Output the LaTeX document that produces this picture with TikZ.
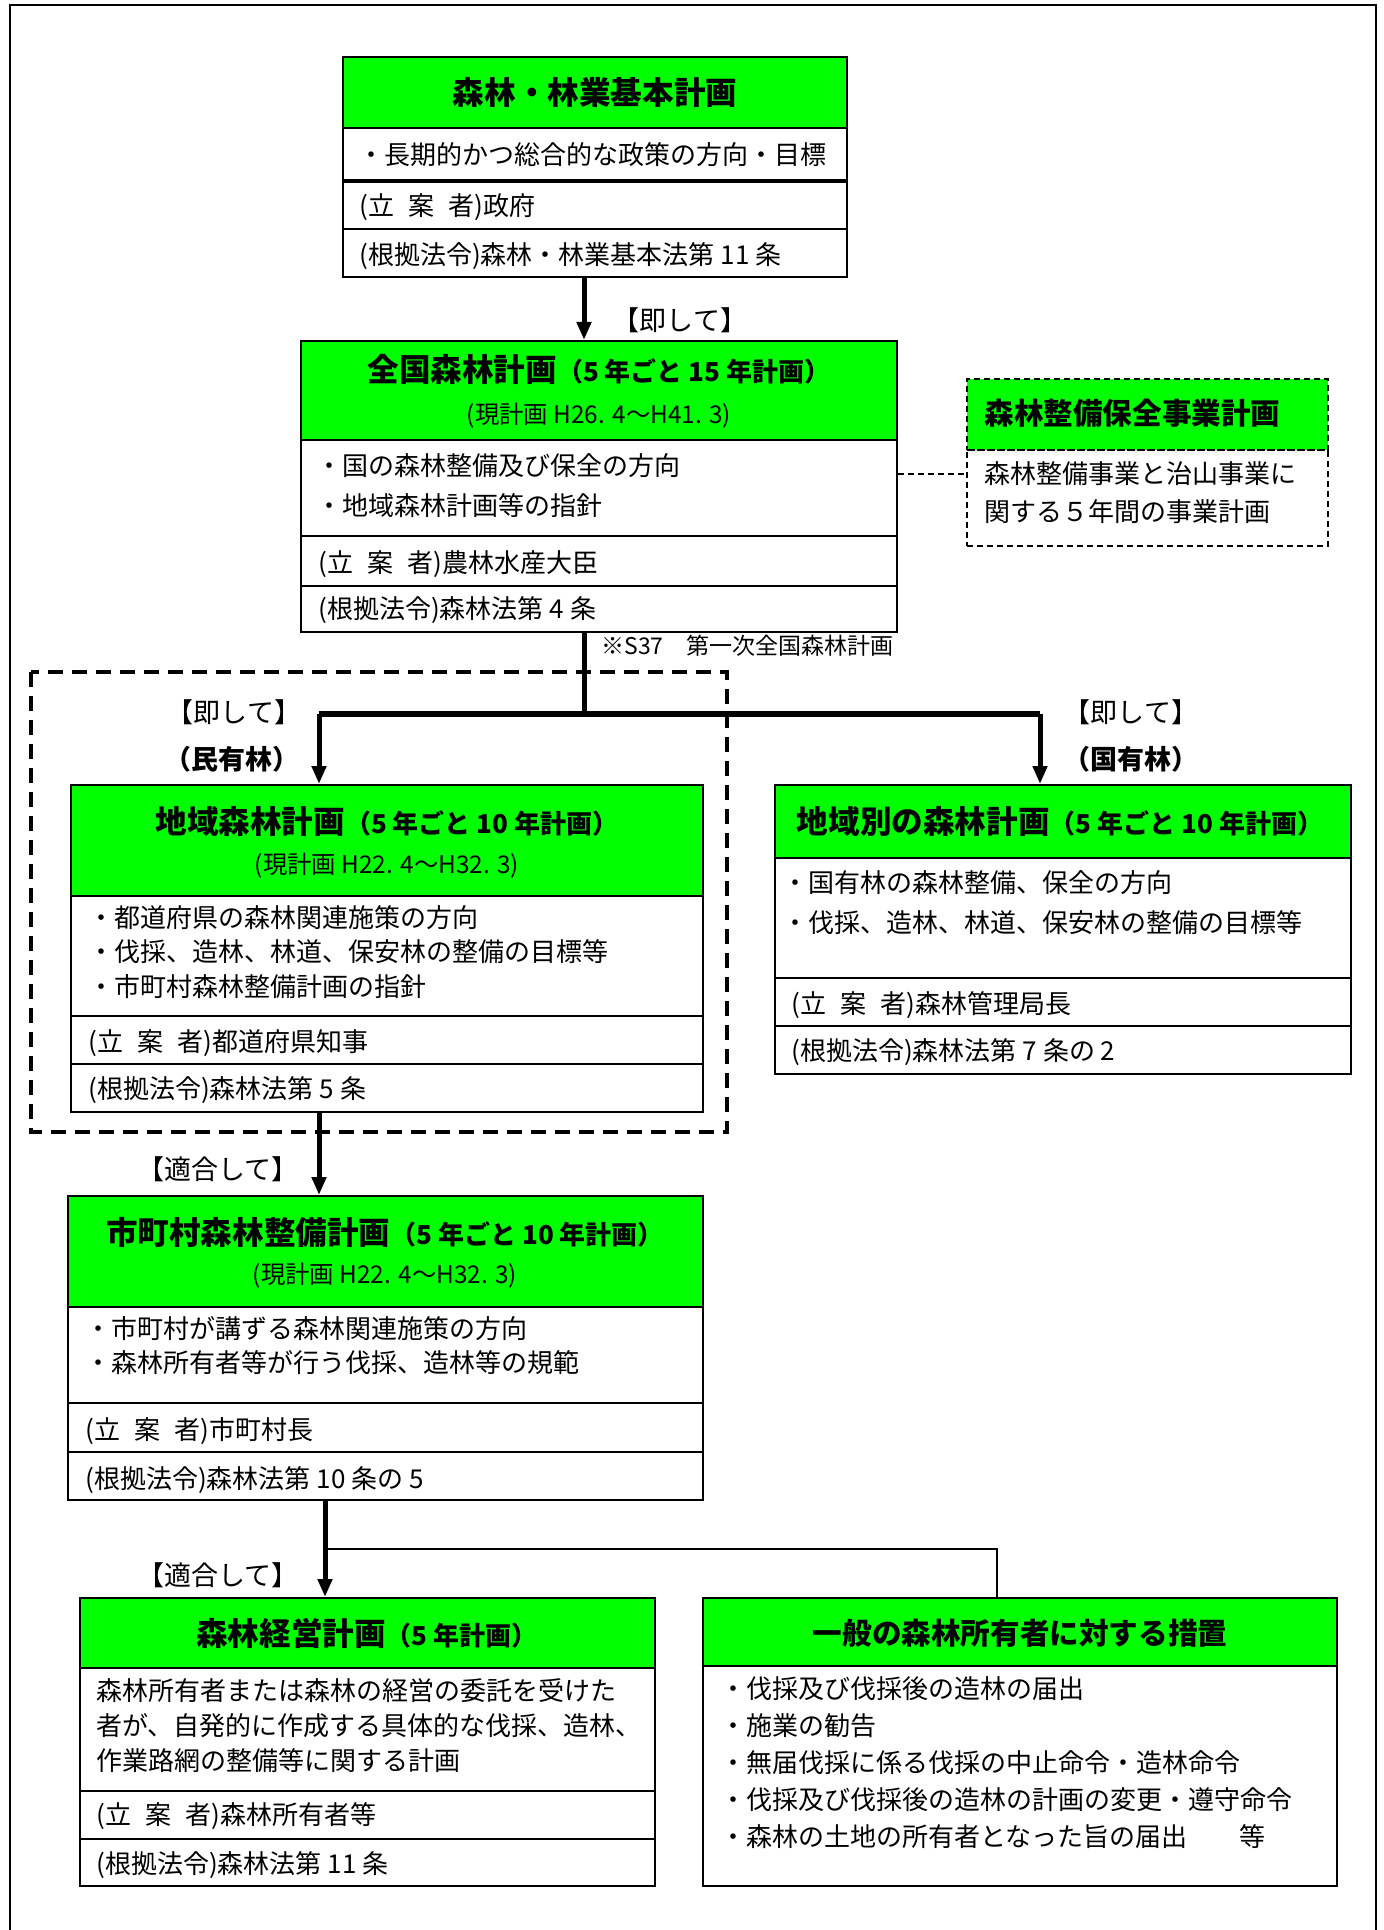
\documentclass[tikz,border=0pt]{standalone}
\usepackage{fontspec}
\setmainfont{Noto Sans CJK JP}
\usetikzlibrary{fit,arrows.meta}
\definecolor{hgreen}{RGB}{0,255,0}
\begin{document}
\begin{tikzpicture}[x=0.5pt,y=-0.5pt,
  cell/.style={draw=black,line width=1pt,inner sep=0pt},
  hdr/.style={cell,fill=hgreen},
  dcell/.style={draw=black,line width=1pt,dash pattern=on 3pt off 2pt,inner sep=0pt},
  body/.style={anchor=west,inner sep=0pt,font=\fontsize{13}{16}\selectfont},
  htxt/.style={inner sep=0pt,font=\bfseries\fontsize{15.8}{19}\selectfont},
  sub/.style={inner sep=0pt,font=\fontsize{12.2}{14}\selectfont},
  lbl/.style={inner sep=0pt,font=\fontsize{13.5}{16}\selectfont},
  blbl/.style={inner sep=0pt,font=\bfseries\fontsize{13.5}{16}\selectfont},
  thickarrow/.style={line width=2.5pt,-{Triangle[length=9pt,width=7pt]}},
  thickline/.style={line width=3pt},
  thinline/.style={line width=0.8pt},
]
\newcommand{\pp}[1]{{\fontsize{13}{15}\selectfont #1}}
\useasboundingbox (0,0) rectangle (1383,1930);
% outer frame
\draw[line width=0.8pt] (10,1935) -- (10,5) -- (1376,5) -- (1376,1935);

% ---------- box 1
\node[hdr, fit={(343,57)(847,128)}] (b1h) {};
\node[cell, fit={(343,128)(847,180)}] (b1r1) {};
\node[cell, fit={(343,180)(847,229)}] (b1r2) {};
\node[cell, fit={(343,229)(847,277)}] (b1r3) {};
\draw[line width=2pt] (b1r1.south west) -- (b1r1.south east);
\node[htxt] (t1h) at (b1h.center) {森林・林業基本計画};
\node[body] (t1a) at (358,155) {・長期的かつ総合的な政策の方向・目標};
\node[body] (t1b) at (359,207) {(立\hspace{.55em}案\hspace{.55em}者)政府};
\node[body] (t1c) at (359,256) {(根拠法令)森林・林業基本法第 11 条};

% ---------- box 2
\node[hdr, fit={(301,341)(897,440)}] (b2h) {};
\node[cell, fit={(301,440)(897,536)}] (b2r1) {};
\node[cell, fit={(301,536)(897,586)}] (b2r2) {};
\node[cell, fit={(301,586)(897,632)}] (b2r3) {};
\node[htxt] (t2h) at (599,369) {全国森林計画\pp{（5 年ごと 15 年計画）}};
\node[sub] (t2s) at (599,416) {(現計画 H26. 4～H41. 3)};
\node[body] (t2a) at (316,466) {・国の森林整備及び保全の方向};
\node[body] (t2b) at (316,506) {・地域森林計画等の指針};
\node[body] (t2c) at (318,564) {(立\hspace{.55em}案\hspace{.55em}者)農林水産大臣};
\node[body] (t2d) at (318,610) {(根拠法令)森林法第 4 条};

% ---------- box 3 (dashed)
\node[dcell, fill=hgreen, fit={(967,379)(1328,450)}] (b3h) {};
\node[dcell, fit={(967,450)(1328,546)}] (b3r1) {};
\node[htxt, anchor=west, font=\bfseries\fontsize{14.8}{18}\selectfont] (t3h) at (984,413) {森林整備保全事業計画};
\node[body] (t3a) at (984,474) {森林整備事業と治山事業に};
\node[body] (t3b) at (984,512) {関する５年間の事業計画};
\draw[thinline, dash pattern=on 3pt off 2pt] (b2r1.east |- 0,474) -- (b3r1.west |- 0,474);

% note
\node[anchor=west, inner sep=0pt, font=\fontsize{11.5}{14}\selectfont] (note) at (601,646) {※S37\hspace{1em}第一次全国森林計画};

% ---------- arrows from box 1 / box 2
\draw[thickarrow] (584,0 |- b1r3.south) -- (584,0 |- b2h.north);
\node[lbl] (l1) at (680,320) {【即して】};
\coordinate (jn) at (584,714);
\draw[line width=2.5pt] (584,0 |- b2r3.south) -- (jn);
\draw[thickline] (319,714) -- (1040,714);

% big dashed frame
\draw[line width=1.6pt, dash pattern=on 7.5pt off 4.5pt] (31,672) rectangle (727,1132);

% ---------- box 4
\node[hdr, fit={(71,785)(703,896)}] (b4h) {};
\node[cell, fit={(71,896)(703,1016)}] (b4r1) {};
\node[cell, fit={(71,1016)(703,1064)}] (b4r2) {};
\node[cell, fit={(71,1064)(703,1112)}] (b4r3) {};
\node[htxt] (t4h) at (387,821) {地域森林計画\pp{（5 年ごと 10 年計画）}};
\node[sub] (t4s) at (387,866) {(現計画 H22. 4～H32. 3)};
\node[body] (t4a) at (88,918) {・都道府県の森林関連施策の方向};
\node[body] (t4b) at (88,952) {・伐採、造林、林道、保安林の整備の目標等};
\node[body] (t4c) at (88,987) {・市町村森林整備計画の指針};
\node[body] (t4d) at (88,1043) {(立\hspace{.55em}案\hspace{.55em}者)都道府県知事};
\node[body] (t4e) at (88,1090) {(根拠法令)森林法第 5 条};

% ---------- box 5
\node[hdr, fit={(775,785)(1351,858)}] (b5h) {};
\node[cell, fit={(775,858)(1351,978)}] (b5r1) {};
\node[cell, fit={(775,978)(1351,1026)}] (b5r2) {};
\node[cell, fit={(775,1026)(1351,1074)}] (b5r3) {};
\node[htxt] (t5h) at (1060,821) {地域別の森林計画\pp{（5 年ごと 10 年計画）}};
\node[body] (t5a) at (782,883) {・国有林の森林整備、保全の方向};
\node[body] (t5b) at (782,923) {・伐採、造林、林道、保安林の整備の目標等};
\node[body] (t5c) at (791,1005) {(立\hspace{.55em}案\hspace{.55em}者)森林管理局長};
\node[body] (t5d) at (791,1052) {(根拠法令)森林法第 7 条の 2};

% arrows to box 4 and 5
\draw[thickarrow] (319,0 |- jn) -- (319,0 |- b4h.north);
\draw[thickarrow] (1040,0 |- jn) -- (1040,0 |- b5h.north);
\node[lbl] (l2) at (234,712) {【即して】};
\node[blbl] (l3) at (232,759) {（民有林）};
\node[lbl] (l4) at (1131,712) {【即して】};
\node[blbl] (l5) at (1131,759) {（国有林）};

% ---------- box 6
\node[hdr, fit={(68,1196)(703,1307)}] (b6h) {};
\node[cell, fit={(68,1307)(703,1403)}] (b6r1) {};
\node[cell, fit={(68,1403)(703,1452)}] (b6r2) {};
\node[cell, fit={(68,1452)(703,1500)}] (b6r3) {};
\node[htxt] (t6h) at (385,1232) {市町村森林整備計画\pp{（5 年ごと 10 年計画）}};
\node[sub] (t6s) at (385,1276) {(現計画 H22. 4～H32. 3)};
\node[body] (t6a) at (85,1329) {・市町村が講ずる森林関連施策の方向};
\node[body] (t6b) at (85,1363) {・森林所有者等が行う伐採、造林等の規範};
\node[body] (t6c) at (85,1431) {(立\hspace{.55em}案\hspace{.55em}者)市町村長};
\node[body] (t6d) at (85,1480) {(根拠法令)森林法第 10 条の 5};

\draw[thickarrow] (319,0 |- b4r3.south) -- (319,0 |- b6h.north);
\node[lbl] (l6) at (218,1169) {【適合して】};

% ---------- box 7
\node[hdr, fit={(80,1598)(655,1668)}] (b7h) {};
\node[cell, fit={(80,1668)(655,1791)}] (b7r1) {};
\node[cell, fit={(80,1791)(655,1839)}] (b7r2) {};
\node[cell, fit={(80,1839)(655,1886)}] (b7r3) {};
\node[htxt] (t7h) at (367,1633) {森林経営計画\pp{（5 年計画）}};
\node[body] (t7a) at (96,1691) {森林所有者または森林の経営の委託を受けた};
\node[body] (t7b) at (96,1726) {者が、自発的に作成する具体的な伐採、造林、};
\node[body] (t7c) at (96,1761) {作業路網の整備等に関する計画};
\node[body] (t7d) at (96,1816) {(立\hspace{.55em}案\hspace{.55em}者)森林所有者等};
\node[body] (t7e) at (96,1865) {(根拠法令)森林法第 11 条};

% ---------- box 8
\node[hdr, fit={(703,1598)(1337,1666)}] (b8h) {};
\node[cell, fit={(703,1666)(1337,1886)}] (b8r1) {};
\node[htxt, font=\bfseries\fontsize{14.8}{18}\selectfont] (t8h) at (1020,1633) {一般の森林所有者に対する措置};
\node[body] (t8a) at (720,1689) {・伐採及び伐採後の造林の届出};
\node[body] (t8b) at (720,1726) {・施業の勧告};
\node[body] (t8c) at (720,1763) {・無届伐採に係る伐採の中止命令・造林命令};
\node[body] (t8d) at (720,1800) {・伐採及び伐採後の造林の計画の変更・遵守命令};
\node[body] (t8e) at (720,1837) {・森林の土地の所有者となった旨の届出\hspace{2em}等};

% arrows to box 7 / 8
\coordinate (br) at (325,1549);
\draw[thickarrow] (325,0 |- b6r3.south) -- (325,0 |- b7h.north);
\draw[thinline] (br) -| (997,0 |- b8h.north);
\node[lbl] (l7) at (218,1575) {【適合して】};
\end{tikzpicture}
\end{document}
